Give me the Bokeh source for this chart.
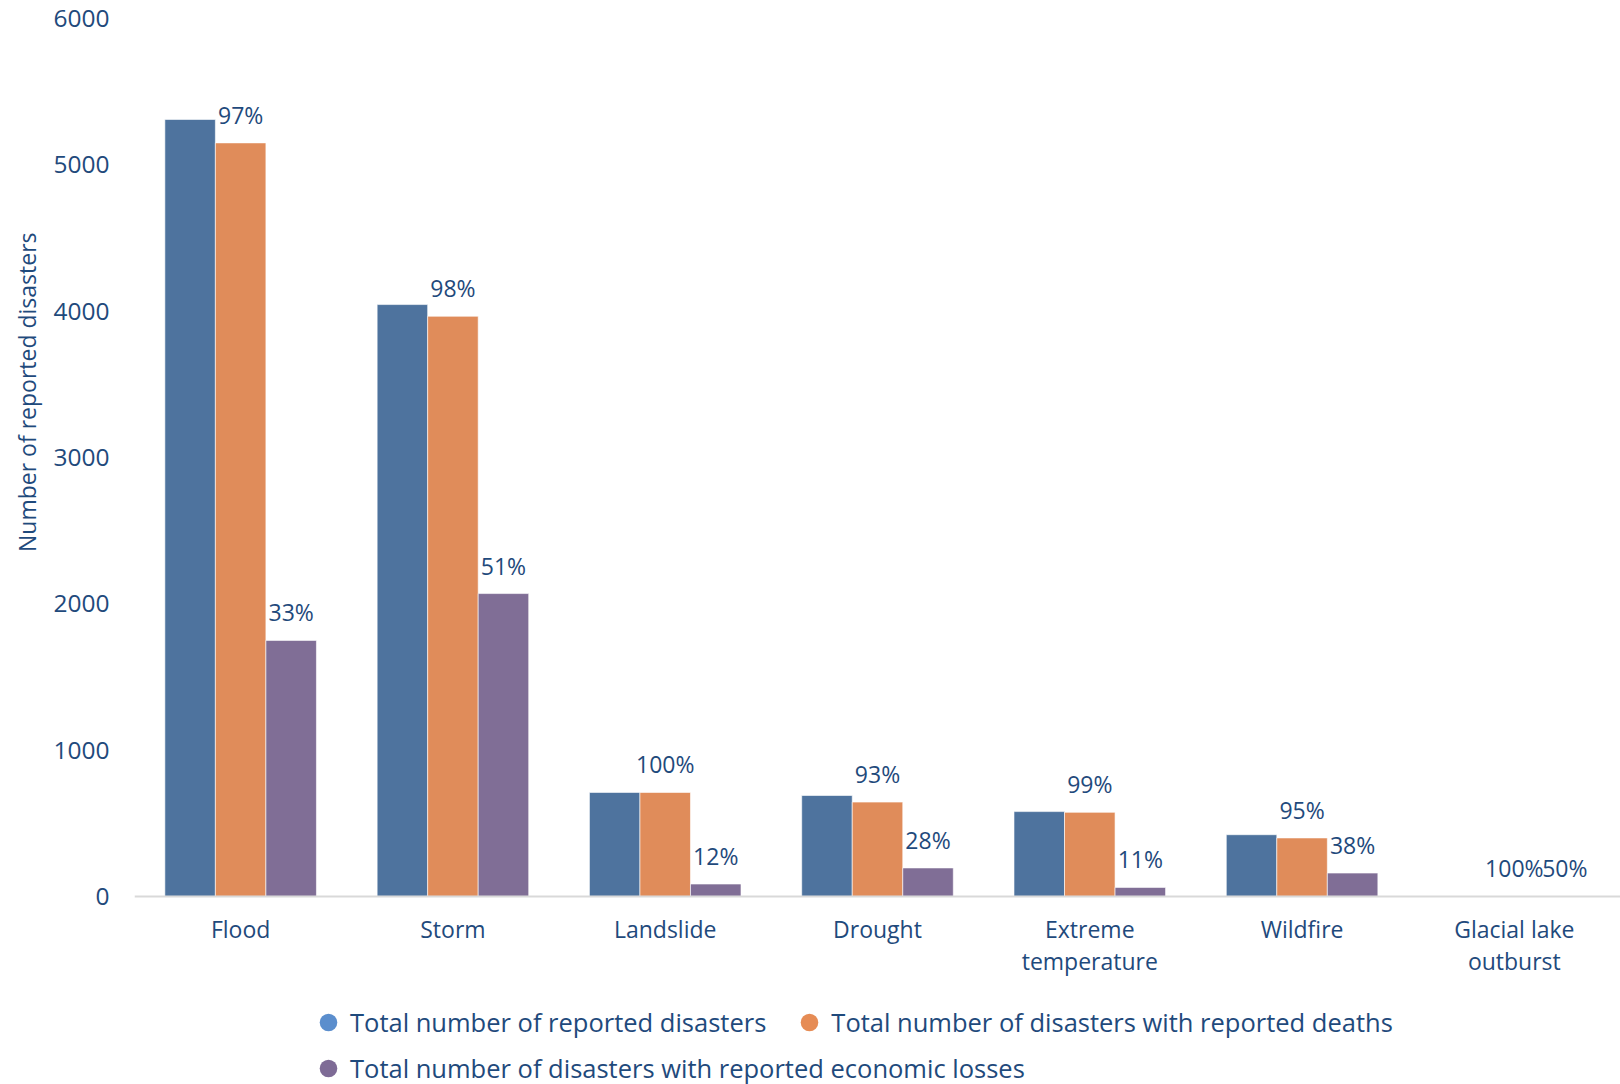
from bokeh.plotting import figure
from bokeh.models import FactorRange, Range1d, FixedTicker, Legend, LegendItem, ColumnDataSource, Title
from bokeh.transform import dodge
from bokeh.core.properties import value
from bokeh.embed import file_html
from bokeh.resources import INLINE

categories = ["Flood", "Storm", "Landslide", "Drought", "Extreme\ntemperature", "Wildfire", "Glacial lake\noutburst"]
total_reported = [5310, 4045, 711, 690, 580, 422, 2]
with_deaths = [5150, 3965, 711, 645, 575, 400, 2]
with_losses = [1750, 2070, 85, 195, 62, 160, 1]
deaths_pct = ["97%", "98%", "100%", "93%", "99%", "95%", "100%"]
losses_pct = ["33%", "51%", "12%", "28%", "11%", "38%", "50%"]
y_ticks = [0, 1000, 2000, 3000, 4000, 5000, 6000]
series_names = [
    "Total number of reported disasters",
    "Total number of disasters with reported deaths",
    "Total number of disasters with reported economic losses",
]

TXT = "#1f4a7c"
FONT = "Open Sans"
FS = "23px"
bar_colors = ["#4e739e", "#e08c5a", "#806e96"]
dot_colors = ["#5b8ecd", "#e68c55", "#7e6b96"]
BW = 0.238

src = ColumnDataSource(dict(cat=categories, total=total_reported, deaths=with_deaths,
                            losses=with_losses, dp=deaths_pct, lp=losses_pct))

# frame extends below zero so the legend (inside the frame) is not clipped;
# the category axis is pinned at y = 0
p = figure(width=1620, height=1084, x_range=FactorRange(*categories, range_padding=0),
           y_range=Range1d(-1285, 6000), output_backend="svg", toolbar_location=None,
           min_border_left=131, min_border_right=0, min_border_top=18, min_border_bottom=0)
p.outline_line_color = None
p.xgrid.grid_line_color = None
p.ygrid.grid_line_color = None
p.background_fill_color = "white"
p.border_fill_color = "white"

cols = ["total", "deaths", "losses"]
offs = [-BW, 0, BW]
for c, o, col in zip(cols, offs, bar_colors):
    p.vbar(x=dodge("cat", o, range=p.x_range), top=c, width=BW, source=src,
           fill_color=col, line_color="white", line_width=1, line_alpha=0.6)

p.text(x=dodge("cat", 0, range=p.x_range), y="deaths", text="dp", source=src,
       text_align="center", text_baseline="alphabetic", y_offset=-28,
       text_font=value(FONT), text_font_size=value(FS), text_color=TXT)
p.text(x=dodge("cat", BW, range=p.x_range), y="losses", text="lp", source=src,
       text_align="center", text_baseline="alphabetic", y_offset=-28,
       text_font=value(FONT), text_font_size=value(FS), text_color=TXT)

# y axis
p.yaxis.ticker = FixedTicker(ticks=y_ticks)
p.yaxis.axis_line_color = None
p.yaxis.major_tick_line_color = None
p.yaxis.minor_tick_line_color = None
p.yaxis.major_tick_out = 0
p.yaxis.major_tick_in = 0
p.yaxis.minor_tick_out = 0
p.yaxis.major_label_text_font = FONT
p.yaxis.major_label_text_font_size = "24.5px"
p.yaxis.major_label_text_color = TXT
p.yaxis.major_label_standoff = 25

ytitle = Title(text="Number of reported disasters", align="right", offset=214,
               text_font=FONT, text_font_size=FS, text_font_style="normal",
               text_color=TXT, standoff=16)
p.add_layout(ytitle, "left")

# x axis pinned at zero
p.xaxis.fixed_location = 0
p.xaxis.axis_line_color = "#d9d9d9"
p.xaxis.axis_line_width = 2
p.xaxis.major_tick_line_color = None
p.xaxis.minor_tick_line_color = None
p.xaxis.major_tick_out = 0
p.xaxis.major_tick_in = 0
p.xaxis.major_label_text_font = FONT
p.xaxis.major_label_text_font_size = FS
p.xaxis.major_label_text_color = TXT
p.xaxis.major_label_text_line_height = 1.0
p.xaxis.major_label_standoff = 17
p.xaxis.major_label_orientation = "horizontal"

# legend markers: renderers whose single point lies outside the visible range
rs = []
for col in dot_colors:
    rs.append(p.scatter(x=[categories[0]], y=[-9000], marker="circle", size=17,
                        fill_color=col, line_color=None))

def mk_legend(items, loc):
    return Legend(items=items, location=loc, orientation="horizontal",
                  glyph_width=44, glyph_height=44, label_standoff=-1, spacing=21,
                  padding=0, margin=0, border_line_color=None, background_fill_alpha=0,
                  label_text_font=FONT, label_text_font_size="25.5px", label_text_color=TXT,
                  label_height=30)

lg1 = mk_legend([LegendItem(label=series_names[0], renderers=[rs[0]]),
                 LegendItem(label=series_names[1], renderers=[rs[1]])], (172, 40))
lg2 = mk_legend([LegendItem(label=series_names[2], renderers=[rs[2]])], (172, -6))
p.add_layout(lg1, "center")
p.add_layout(lg2, "center")

open("out.html", "w").write(file_html(p, INLINE))
